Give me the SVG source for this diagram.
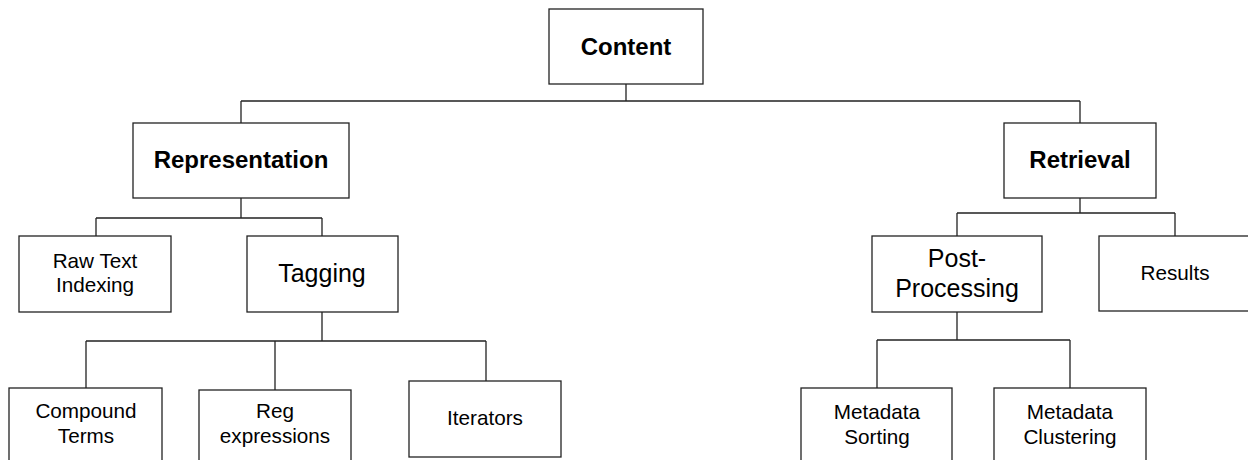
<svg xmlns="http://www.w3.org/2000/svg" width="1248" height="460" viewBox="0 0 1248 460">
<style>
.box{fill:#fff;stroke:#222;stroke-width:1.3}
.ln{fill:none;stroke:#222;stroke-width:1.3}
.b{font-family:"Liberation Sans",Arial,sans-serif;font-weight:bold;font-size:24px;fill:#000;text-anchor:middle}
.r{font-family:"Liberation Sans",Arial,sans-serif;font-size:20.7px;fill:#000;text-anchor:middle}
.r25{font-family:"Liberation Sans",Arial,sans-serif;font-size:25px;fill:#000;text-anchor:middle}
</style>
<rect width="1248" height="460" fill="#fff"/>
<g id="connectors">
<path class="ln" d="M626,84V101M241,101H1080M241,101V123M1080,101V123"/>
<path class="ln" d="M241,198V218M96,218H322M96,218V236M322,218V236"/>
<path class="ln" d="M1080,198V213M957,213H1175M957,213V236M1175,213V236"/>
<path class="ln" d="M322,312V341M86,341H486M86,341V388M275,341V390M486,341V381"/>
<path class="ln" d="M957,312V340M877,340H1070M877,340V388M1070,340V388"/>
</g>
<g id="content"><rect class="box" x="549" y="9" width="154" height="75"/><text class="b" x="626" y="55">Content</text></g>
<g id="representation"><rect class="box" x="133" y="123" width="216" height="75"/><text class="b" x="241" y="168">Representation</text></g>
<g id="retrieval"><rect class="box" x="1004" y="123" width="152" height="75"/><text class="b" x="1080" y="168">Retrieval</text></g>
<g id="rawtext"><rect class="box" x="19" y="236" width="152" height="76"/><text class="r" x="95" y="268">Raw Text</text><text class="r" x="95" y="292">Indexing</text></g>
<g id="tagging"><rect class="box" x="247" y="236" width="151" height="76"/><text class="r25" x="322" y="282">Tagging</text></g>
<g id="postprocessing"><rect class="box" x="872" y="236" width="170" height="76"/><text class="r25" x="957" y="267">Post-</text><text class="r25" x="957" y="297">Processing</text></g>
<g id="results"><rect class="box" x="1099" y="236" width="152" height="75"/><text class="r" x="1175" y="280">Results</text></g>
<g id="compound"><rect class="box" x="9" y="388" width="153" height="76"/><text class="r" x="86" y="418">Compound</text><text class="r" x="86" y="443">Terms</text></g>
<g id="regexp"><rect class="box" x="199" y="390" width="152" height="76"/><text class="r" x="275" y="418">Reg</text><text class="r" x="275" y="443">expressions</text></g>
<g id="iterators"><rect class="box" x="409" y="381" width="152" height="76"/><text class="r" x="485" y="425">Iterators</text></g>
<g id="metasorting"><rect class="box" x="801" y="388" width="151" height="76"/><text class="r" x="877" y="419">Metadata</text><text class="r" x="877" y="444">Sorting</text></g>
<g id="metaclustering"><rect class="box" x="994" y="388" width="152" height="76"/><text class="r" x="1070" y="419">Metadata</text><text class="r" x="1070" y="444">Clustering</text></g>
</svg>
